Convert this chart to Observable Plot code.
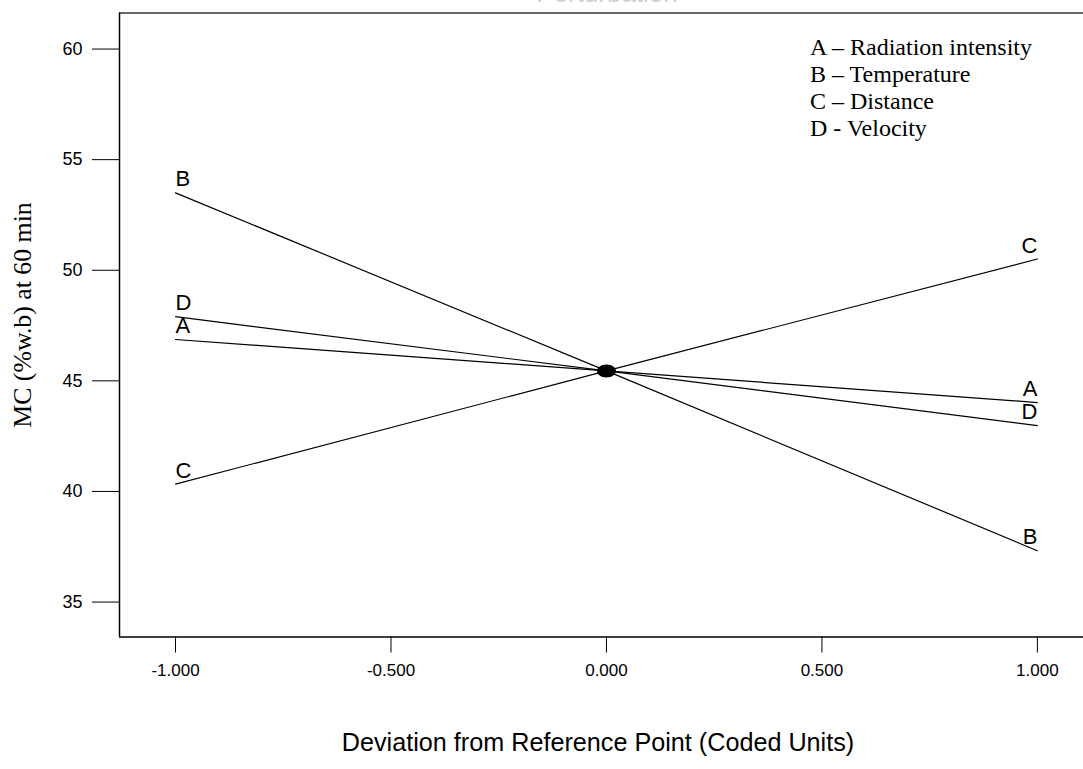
<!DOCTYPE html>
<html>
<head>
<meta charset="utf-8">
<script src="https://cdn.jsdelivr.net/npm/d3@7"></script>
<script src="https://cdn.jsdelivr.net/npm/@observablehq/plot@0.6"></script>
<style>
  html, body { margin: 0; padding: 0; background: #fff; }
  #wrap { position: relative; width: 1083px; height: 769px; overflow: hidden; }
  #chart { position: absolute; left: 0; top: 0; }
  .title { position: absolute; left: 407px; width: 400px; top: -20.5px; text-align: center;
           font-family: "Liberation Sans", Arial, sans-serif; font-size: 26px; line-height: 26px; color: #d0d0d0; }
  .legend { position: absolute; left: 810px; top: 34px; font-family: "Liberation Serif", "Times New Roman", serif;
            font-size: 24px; line-height: 27px; color: #000; white-space: nowrap; }
  .ylab { position: absolute; left: -177px; top: 300px; width: 400px; height: 30px; line-height: 30px; text-align: center;
          transform: rotate(-90deg); transform-origin: 50% 50%;
          font-family: "Liberation Serif", "Times New Roman", serif; font-size: 25.8px; color: #000; white-space: nowrap; }
  .xlab { position: absolute; left: 98px; width: 1000px; top: 727px; line-height: 30px; text-align: center;
          font-family: "Liberation Sans", Arial, sans-serif; font-size: 25.2px; color: #000; white-space: nowrap; }
</style>
</head>
<body>
<div id="wrap">
  <div id="chart"></div>
  <div class="title">Perturbation</div>
  <div class="legend" id="legend"></div>
  <div class="ylab">MC (%w.b) at 60 min</div>
  <div class="xlab">Deviation from Reference Point (Coded Units)</div>
</div>
<script>
// ---- data ----
const factors = ["A", "B", "C", "D"];
const factorNames = ["A \u2013 Radiation intensity", "B \u2013 Temperature", "C \u2013 Distance", "D - Velocity"];
const deviation = [-1, 0, 1];
const mcA = [46.87, 45.45, 44.02];
const mcB = [53.50, 45.45, 37.32];
const mcC = [40.33, 45.45, 50.51];
const mcD = [47.90, 45.45, 42.98];
const referencePoint = [{x: 0, y: 45.45}];
const xTicks = [-1, -0.5, 0, 0.5, 1];
const yTicks = [35, 40, 45, 50, 55, 60];
const xDomain = [-1.13, 1.107];
const yDomain = [33.42, 61.63];

// ---- build table ----
const series = {A: mcA, B: mcB, C: mcC, D: mcD};
const rows = [];
for (const f of factors) {
  deviation.forEach((x, i) => rows.push({factor: f, x, y: series[f][i]}));
}
const leftEnds = rows.filter(d => d.x === deviation[0]);
const rightEnds = rows.filter(d => d.x === deviation[deviation.length - 1]);

// ellipse symbol for the reference point
const ellipse = {
  draw(ctx) {
    const rx = 9.5, ry = 6.5, k = 0.5523;
    ctx.moveTo(rx, 0);
    ctx.bezierCurveTo(rx, ry * k, rx * k, ry, 0, ry);
    ctx.bezierCurveTo(-rx * k, ry, -rx, ry * k, -rx, 0);
    ctx.bezierCurveTo(-rx, -ry * k, -rx * k, -ry, 0, -ry);
    ctx.bezierCurveTo(rx * k, -ry, rx, -ry * k, rx, 0);
    ctx.closePath();
  }
};

const fmt3 = d3.format(".3f");
const letterFont = {fontSize: 22, fontFamily: "'Liberation Sans', Arial, sans-serif", fill: "#000"};

const chart = Plot.plot({
  width: 1083,
  height: 769,
  marginLeft: 119,
  marginRight: 0,
  marginTop: 12.5,
  marginBottom: 132.5,
  style: {fontFamily: "'Liberation Sans', Arial, sans-serif", background: "#fff", overflow: "visible"},
  x: {domain: xDomain},
  y: {domain: yDomain},
  marks: [
    Plot.ruleY([yDomain[1]], {stroke: "#333", strokeWidth: 1.5}),
    Plot.ruleY([yDomain[0]], {stroke: "#000", strokeWidth: 1.5}),
    Plot.ruleX([xDomain[0]], {stroke: "#000", strokeWidth: 1.5}),
    Plot.axisY({ticks: yTicks, tickSize: 27, tickPadding: 10, fontSize: 18, label: null,
                stroke: "#000", strokeOpacity: 1, color: "#000", tickFormat: d => String(d)}),
    Plot.axisX({ticks: xTicks, tickSize: 16, tickPadding: 11, fontSize: 17, label: null,
                stroke: "#000", strokeOpacity: 1, color: "#000", tickFormat: d => fmt3(d).replace("\u2212", "-")}),
    Plot.line(rows, {x: "x", y: "y", z: "factor", stroke: "#000", strokeWidth: 1.2}),
    Plot.dot(referencePoint, {x: "x", y: "y", symbol: ellipse, fill: "#000", stroke: "none", r: 8}),
    Plot.text(leftEnds, {x: "x", y: "y", text: "factor", textAnchor: "start", lineAnchor: "middle", dy: -13.5, ...letterFont}),
    Plot.text(rightEnds, {x: "x", y: "y", text: "factor", textAnchor: "end", lineAnchor: "middle", dy: -13.5, ...letterFont})
  ]
});
document.getElementById("chart").appendChild(chart);

const legend = document.getElementById("legend");
factorNames.forEach(n => {
  const div = document.createElement("div");
  div.textContent = n;
  legend.appendChild(div);
});
</script>
</body>
</html>
